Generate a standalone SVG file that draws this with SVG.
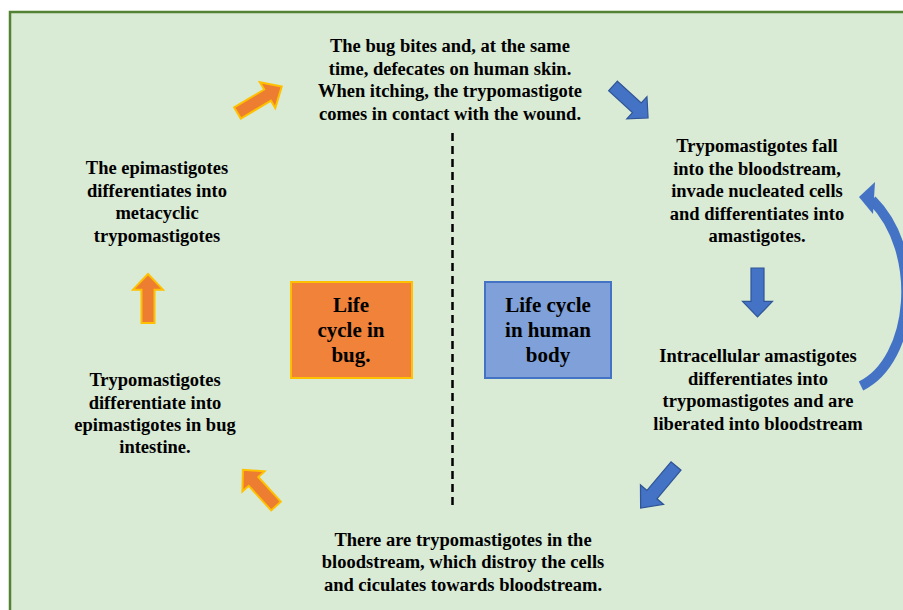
<svg xmlns="http://www.w3.org/2000/svg" xmlns:xlink="http://www.w3.org/1999/xlink" width="903" height="610" viewBox="0 0 903 610">
<style>
.t{font-family:"Liberation Serif","Times New Roman",serif;font-weight:bold;font-size:18.5px;fill:#000;text-anchor:middle}
.bt{font-family:"Liberation Serif","Times New Roman",serif;font-weight:bold;font-size:21px;fill:#000;text-anchor:middle}
.oa{fill:#ed7d31;stroke:#ffc000;stroke-width:2;stroke-linejoin:miter}
.ba{fill:#4472c4;stroke:#2f5597;stroke-width:1.2}
</style>
<defs>
<polygon id="arr" points="0,-6.5 34,-6.5 34,-15 50,0 34,15 34,6.5 0,6.5"/>
</defs>
<rect x="0" y="0" width="903" height="610" fill="#ffffff"/>
<rect id="frame" x="10" y="12" width="905" height="610" fill="#d9ead5" stroke="#548235" stroke-width="2.5"/>

<g id="connectors">
<line x1="452.5" y1="133" x2="452.5" y2="508" stroke="#000" stroke-width="2.5" stroke-dasharray="8,5"/>
<use xlink:href="#arr" class="oa" transform="translate(237.5,113) rotate(-30.8) scale(1.03,1)"/>
<use xlink:href="#arr" class="ba" transform="translate(613,86) rotate(42.4) scale(0.95,1)"/>
<use xlink:href="#arr" class="ba" transform="translate(757.5,268) rotate(90) scale(0.98,1)"/>
<use xlink:href="#arr" class="ba" transform="translate(676,466) rotate(130) scale(1.1,1)"/>
<use xlink:href="#arr" class="oa" transform="translate(276,506) rotate(227.5) scale(0.98,1)"/>
<use xlink:href="#arr" class="oa" transform="translate(148,323) rotate(-90) scale(0.98,1)"/>
<path d="M861,386 C914,360 924,252 872,200" fill="none" stroke="#4472c4" stroke-width="10"/>
<polygon points="859,197 875,182 873,214" fill="#4472c4"/>
</g>

<g id="node-bug-box">
<rect x="291" y="282" width="121" height="96" fill="#f08239" stroke="#ffc000" stroke-width="2"/>
<text class="bt" x="351" y="312">Life</text>
<text class="bt" x="351" y="337">cycle in</text>
<text class="bt" x="351" y="362">bug.</text>
</g>

<g id="node-human-box">
<rect x="485" y="282" width="126" height="96" fill="#7fa0d8" stroke="#4472c4" stroke-width="2"/>
<text class="bt" x="548" y="312">Life cycle</text>
<text class="bt" x="548" y="337">in human</text>
<text class="bt" x="548" y="362">body</text>
</g>

<g id="node-top">
<text class="t" x="450" y="52">The bug bites and, at the same</text>
<text class="t" x="450" y="74.5">time, defecates on human skin.</text>
<text class="t" x="450" y="97">When itching, the trypomastigote</text>
<text class="t" x="450" y="119.5">comes in contact with the wound.</text>
</g>

<g id="node-right-top">
<text class="t" x="757" y="152">Trypomastigotes fall</text>
<text class="t" x="757" y="174.5">into the bloodstream,</text>
<text class="t" x="757" y="197">invade nucleated cells</text>
<text class="t" x="757" y="219.5">and differentiates into</text>
<text class="t" x="757" y="242">amastigotes.</text>
</g>

<g id="node-right-mid">
<text class="t" x="758" y="362">Intracellular amastigotes</text>
<text class="t" x="758" y="384.5">differentiates into</text>
<text class="t" x="758" y="407">trypomastigotes and are</text>
<text class="t" x="758" y="429.5">liberated into bloodstream</text>
</g>

<g id="node-bottom">
<text class="t" x="463" y="546">There are trypomastigotes in the</text>
<text class="t" x="463" y="568">bloodstream, which distroy the cells</text>
<text class="t" x="463" y="590.5">and ciculates towards bloodstream.</text>
</g>

<g id="node-left-top">
<text class="t" x="157" y="174">The epimastigotes</text>
<text class="t" x="157" y="196.5">differentiates into</text>
<text class="t" x="157" y="219">metacyclic</text>
<text class="t" x="157" y="241.5">trypomastigotes</text>
</g>

<g id="node-left-bottom">
<text class="t" x="155" y="386">Trypomastigotes</text>
<text class="t" x="155" y="408.5">differentiate into</text>
<text class="t" x="155" y="431">epimastigotes in bug</text>
<text class="t" x="155" y="453">intestine.</text>
</g>
</svg>
